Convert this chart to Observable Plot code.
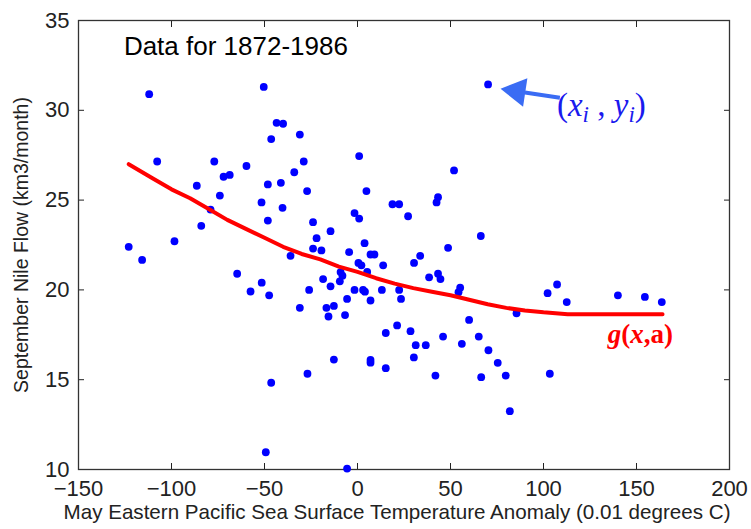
<!DOCTYPE html>
<html><head><meta charset="utf-8">
<script src="https://cdn.jsdelivr.net/npm/d3@7"></script>
<script src="https://cdn.jsdelivr.net/npm/@observablehq/plot@0.6"></script>
<style>body{margin:0;background:#fff}</style>
</head><body><div id="chart"></div>
<script>
// May Eastern Pacific SST anomaly (0.01 °C)
const sstAnomaly = [-112,-50.4,-43.5,-40,-46.4,-31,0.9,-107.7,-77,-59.7,-28.9,-72,-68.7,-34,-48.2,-41.2,-86.4,4.8,-27.1,-74,
 -51.6,18.8,22.4,-40.3,27.2,-79,-1.6,0.9,-48.2,-84,-23.9,-14.5,-98.4,-22,3.8,-123,-23.9,-19.4,-4.5,70.2,
 51.9,43.3,42.5,66.3,48.7,-115.8,-64.7,-57.5,-51.5,-47.5,-46.4,-49.3,-36,-31,-26,-26.9,-18.5,-14.5,-16.7,-12.7,
 -15.6,-12.7,-9.1,-8.1,-9.5,-5.6,-6.7,-5.6,0.5,2.1,-1.6,3,4,5.2,7,9.1,7,7,7,13.8,
 13.1,15.2,15.2,21.3,22.4,23.4,28.5,30.4,33.7,38.5,43.3,44.6,31.3,36.7,30.3,46,41.9,54.3,55.2,56.1,
 60,65.2,66.5,70.4,75.4,79.7,81.9,85.5,102.2,107.3,112.5,103.4,140,154.5,163.6];
// September Nile flow (km3/month)
const nileFlow = [30.9,31.3,29.3,29.25,28.4,28.65,27.45,27.15,27.15,26.9,27.15,26.3,26.4,26.55,25.87,25.96,25.8,25.5,25.5,25.25,
 24.87,24.77,24.77,24.57,24.1,24.47,24.28,23.97,23.86,23.57,23.77,23.27,22.71,22.88,22.6,22.4,22.3,22.2,22.1,31.44,
 26.65,25.16,24.87,23.0,22.34,21.67,20.9,19.91,20.4,19.7,14.83,10.96,21.9,19.0,20.0,15.33,20.6,20.2,19.0,19.11,
 18.52,16.12,20.99,20.79,20.48,19.5,18.6,10.05,21.5,21.37,20.0,20.0,19.9,21.0,21.97,21.97,19.41,16.1,15.95,21.37,
 20.0,17.6,15.64,18.02,20.0,19.5,17.7,21.5,21.9,20.7,20.9,20.6,16.92,16.92,16.24,17.4,15.23,19.87,20.12,17.0,
 18.33,17.4,15.14,16.64,15.94,15.23,13.25,18.7,19.82,20.3,19.32,15.33,19.7,19.61,19.32];
// fitted curve g(x,a)
const curveX = [-123,-110,-100,-90,-80,-70,-60,-50,-40,-30,-20,-10,0,10,20,30,40,50,60,70,80,90,100,113,130,150,164];
const curveY = [27.0,26.2,25.6,25.1,24.5,23.9,23.4,22.9,22.4,22.0,21.7,21.3,21.0,20.65,20.35,20.1,19.9,19.7,19.45,19.2,19.0,18.85,18.75,18.65,18.65,18.65,18.65];
const xTicks = [-150,-100,-50,0,50,100,150,200];
const yTicks = [10,15,20,25,30,35];
const xLabel = "May Eastern Pacific Sea Surface Temperature Anomaly (0.01 degrees C)";
const yLabel = "September Nile Flow (km3/month)";
const titleText = "Data for 1872-1986";
// annotation anchors (data units)
const titleAnchor = [{x: -125.6, y: 33.55}];
const pointLabelAnchor = [{x: 107.2, y: 30.25}];
const curveLabelAnchor = [{x: 134.6, y: 17.5}];
const arrowShaft = [{x1: 108.8, y1: 30.70, x2: 90.0, y2: 30.99}];
const arrowHead = [{x: 85.75, y: 31.06}];

const data = sstAnomaly.map((x, i) => ({x, y: nileFlow[i]}));
const curve = curveX.map((x, i) => ({x, y: curveY[i]}));

const chart = Plot.plot({
  width: 751, height: 529,
  marginLeft: 78, marginRight: 22, marginTop: 20, marginBottom: 60,
  style: {fontFamily: "'Liberation Sans', Arial, sans-serif", background: "#fff", color: "#222"},
  x: {domain: [-150, 200]},
  y: {domain: [10, 35]},
  marks: [
    Plot.axisX(xTicks, {anchor: "bottom", tickSize: 0, tickPadding: 11, fontSize: 22, label: null}),
    Plot.axisX(xTicks, {anchor: "bottom", tickSize: -6, tickFormat: () => "", label: null}),
    Plot.axisX(xTicks, {anchor: "top", tickSize: -6, tickFormat: () => "", label: null}),
    Plot.axisY(yTicks, {anchor: "left", tickSize: 0, tickPadding: 9, fontSize: 22, label: null}),
    Plot.axisY(yTicks, {anchor: "left", tickSize: -6, tickFormat: () => "", label: null}),
    Plot.axisY(yTicks, {anchor: "right", tickSize: -6, tickFormat: () => "", label: null}),
    Plot.frame({stroke: "#333", strokeWidth: 1.3}),
    Plot.dot(data, {x: "x", y: "y", r: 3.9, fill: "#0000ff"}),
    Plot.line(curve, {x: "x", y: "y", stroke: "#ff0000", strokeWidth: 4}),
    Plot.text([xLabel], {frameAnchor: "bottom", textAnchor: "middle", dy: 49, dx: -7, fontSize: 20.6, fill: "#222"}),
    Plot.text([yLabel], {frameAnchor: "left", textAnchor: "middle", rotate: -90, dx: -57, dy: 0, fontSize: 19.5, fill: "#222"}),
    Plot.text(titleAnchor, {x: "x", y: "y", text: () => titleText, textAnchor: "start", fontSize: 26, fill: "#000"}),
    Plot.link(arrowShaft, {x1: "x1", y1: "y1", x2: "x2", y2: "y2", stroke: "#3a6cf4", strokeWidth: 4}),
    Plot.dot(arrowHead, {x: "x", y: "y", symbol: "triangle", r: 10.7, rotate: -81.4, fill: "#3a6cf4", stroke: "none"}),
    Plot.text(pointLabelAnchor, {x: "x", y: "y", text: () => "(xi , yi)", textAnchor: "start", fontSize: 33, fill: "#1a1aee", fontFamily: "'Liberation Serif', serif"}),
    Plot.text(curveLabelAnchor, {x: "x", y: "y", text: () => "g(x,a)", textAnchor: "start", fontSize: 27, fill: "#ff0000", fontWeight: "bold", fontFamily: "'Liberation Serif', serif"})
  ]
});
document.getElementById("chart").append(chart);

d3.select(chart).selectAll("text").each(function() {
  const t = this.textContent;
  const sel = d3.select(this);
  if (t === "(xi , yi)") {
    sel.text(null);
    sel.append("tspan").text("(");
    sel.append("tspan").attr("font-style", "italic").text("x");
    sel.append("tspan").attr("font-style", "italic").attr("font-size", "70%").attr("dy", "0.25em").text("i");
    sel.append("tspan").attr("dy", "-0.18em").text(" , ");
    sel.append("tspan").attr("font-style", "italic").text("y");
    sel.append("tspan").attr("font-style", "italic").attr("font-size", "70%").attr("dy", "0.25em").text("i");
    sel.append("tspan").attr("dy", "-0.18em").text(")");
  } else if (t === "g(x,a)") {
    sel.text(null);
    sel.append("tspan").attr("font-style", "italic").text("g");
    sel.append("tspan").text("(");
    sel.append("tspan").attr("font-style", "italic").text("x");
    sel.append("tspan").text(",a)");
  }
});
</script>
</body></html>
